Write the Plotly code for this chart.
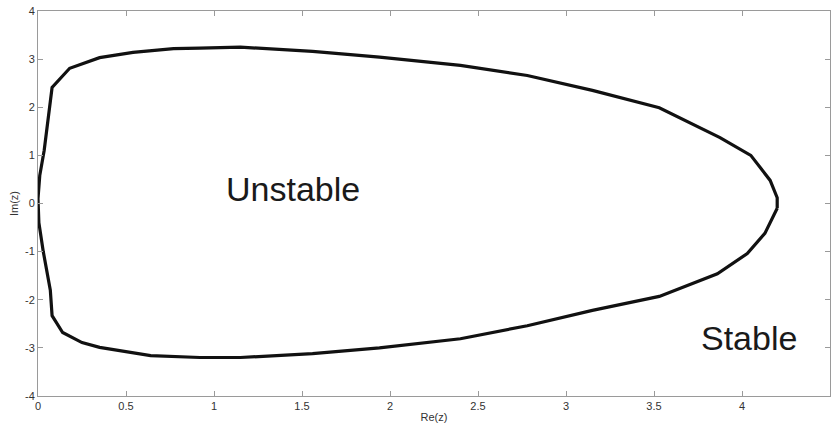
import plotly.graph_objects as go

# Stability boundary (closed curve)
re_z = [4.20, 4.20, 4.16, 4.05, 3.875, 3.53, 3.15, 2.78, 2.40, 1.94, 1.56, 1.15, 0.92, 0.77,
        0.54, 0.35, 0.18, 0.08, 0.035, 0.03, 0.01, 0.0, 0.005, 0.03, 0.07, 0.08, 0.14, 0.25,
        0.35, 0.64, 0.92, 1.15, 1.56, 1.94, 2.40, 2.78, 3.15, 3.53, 3.86, 4.03, 4.13, 4.20]
im_z = [-0.10, 0.12, 0.48, 1.00, 1.37, 1.99, 2.35, 2.66, 2.87, 3.04, 3.16, 3.25, 3.23, 3.22,
        3.14, 3.03, 2.81, 2.41, 1.10, 1.00, 0.58, 0.10, -0.40, -1.00, -1.80, -2.33, -2.68, -2.89,
        -2.99, -3.16, -3.20, -3.20, -3.12, -3.00, -2.81, -2.54, -2.22, -1.93, -1.46, -1.04, -0.62, -0.10]

x_ticks = [0, 0.5, 1, 1.5, 2, 2.5, 3, 3.5, 4, 4.5]
x_tick_labels = ["0", "0.5", "1", "1.5", "2", "2.5", "3", "3.5", "4", "4.5"]
y_ticks = [-4, -3, -2, -1, 0, 1, 2, 3, 4]
y_tick_labels = ["-4", "-3", "-2", "-1", "0", "1", "2", "3", "4"]

region_labels = ["Unstable", "Stable"]
region_x = [1.45, 4.04]
region_y = [0.3, -2.79]

FONT = "Liberation Sans, Arial, sans-serif"

fig = go.Figure()
fig.add_trace(go.Scatter(x=re_z, y=im_z, mode="lines",
                         line=dict(color="#111111", width=3.2), hoverinfo="skip",
                         showlegend=False))

for t, xx, yy in zip(region_labels, region_x, region_y):
    fig.add_annotation(x=xx, y=yy, text=t, showarrow=False,
                       font=dict(family=FONT, size=34, color="#1a1a1a"),
                       xanchor="center", yanchor="middle")

axis_common = dict(showgrid=False, zeroline=False, showline=True, mirror="ticks",
                   linecolor="#9a9a9a", linewidth=1, ticks="inside", ticklen=5,
                   tickcolor="#9a9a9a", automargin=False,
                   tickfont=dict(family=FONT, size=11, color="#333333"))

fig.update_xaxes(range=[0, 4.5], tickvals=x_ticks, ticktext=x_tick_labels,
                 title=dict(text="Re(z)", font=dict(family=FONT, size=11, color="#333333"),
                            standoff=2), **axis_common)
fig.update_yaxes(range=[-4, 4], tickvals=y_ticks, ticktext=y_tick_labels,
                 title=dict(text="Im(z)", font=dict(family=FONT, size=11, color="#333333"),
                            standoff=4), **axis_common)

fig.update_layout(width=834, height=435, margin=dict(l=38, r=4, t=11, b=39),
                  plot_bgcolor="white", paper_bgcolor="white")

fig.write_html("out.html", config={"displayModeBar": False},
               post_script="document.body.style.margin='0';")
